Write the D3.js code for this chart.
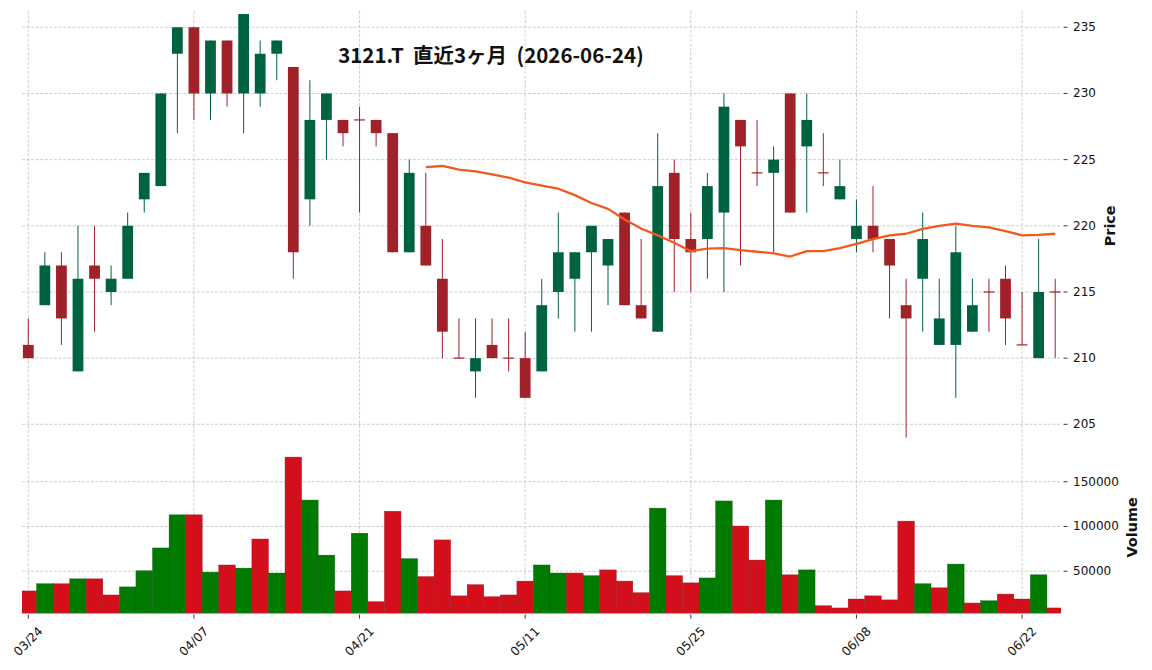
<!DOCTYPE html>
<html>
<head>
<meta charset="utf-8">
<script src="https://cdn.jsdelivr.net/npm/d3@7/dist/d3.min.js"></script>
<style>
  body { margin: 0; background: #fff; }
  svg text { fill: #111; }
</style>
</head>
<body>
<div id="chart"></div>
<script>
// Trading days (index = bar position)
var dates = ["03/24","03/25","03/26","03/27","03/30","03/31","04/01","04/02","04/03","04/06",
	"04/07","04/08","04/09","04/10","04/13","04/14","04/15","04/16","04/17","04/20",
	"04/21","04/22","04/23","04/24","04/27","04/28","04/30","05/01","05/07","05/08",
	"05/11","05/12","05/13","05/14","05/15","05/18","05/19","05/20","05/21","05/22",
	"05/25","05/26","05/27","05/28","05/29","06/01","06/02","06/03","06/04","06/05",
	"06/08","06/09","06/10","06/11","06/12","06/15","06/16","06/17","06/18","06/19",
	"06/22","06/23","06/24"];

var opens = [211,214,217,209,217,215,216,222,223,233,
	235,230,234,230,230,233,232,222,228,228,
	228,228,227,218,220,216,210,209,211,210,
	210,209,215,216,218,217,221,214,212,224,
	219,219,221,228,224,224,230,226,224,222,
	219,220,219,214,216,211,211,212,215,216,
	211,210,215];

var highs = [213,218,218,220,220,217,221,224,230,235,
	235,234,234,236,234,234,232,231,230,228,
	229,228,227,225,224,219,213,213,213,213,
	212,216,221,218,220,219,221,219,227,225,
	221,224,230,228,228,226,230,230,227,225,
	222,223,219,216,221,216,220,216,216,217,
	215,219,216];

var lows = [210,214,211,209,212,214,216,221,223,227,
	228,228,229,227,229,231,216,220,225,226,
	221,226,218,218,217,210,210,207,210,209,
	207,209,213,212,212,214,214,213,212,215,
	215,216,215,217,223,218,221,221,223,222,
	218,218,213,204,212,211,207,212,212,211,
	211,210,210];

var closes = [210,217,213,216,216,216,220,224,230,235,
	230,234,230,236,233,234,218,228,230,227,
	228,227,218,224,217,212,210,210,210,210,
	207,214,218,218,220,219,214,213,223,219,
	218,223,229,226,224,225,221,228,224,223,
	220,219,217,213,219,213,218,214,215,213,
	211,215,215];

var volumes = [28000,36000,36000,41500,41500,23500,32500,50500,76000,113000,
	113000,49000,57000,53500,86000,48000,177500,129500,68000,28000,
	92500,16000,117000,64000,44000,85000,22500,35000,21500,23500,
	39000,57000,48000,48000,45000,51500,39000,26000,120500,45000,
	37000,42500,128500,100500,62500,129500,46000,51500,11500,9000,
	19000,22500,18000,106000,36000,31500,58000,14500,17000,24500,
	19000,46000,9000];

// 25-day moving average, starts at bar 24
var maStart = 24;
var ma25 = [224.44,224.52,224.24,224.12,223.88,223.64,223.28,223.04,222.80,222.32,
	221.72,221.28,220.48,219.80,219.28,218.72,218.08,218.28,218.32,218.16,
	218.04,217.92,217.68,218.08,218.08,218.32,218.64,219.00,219.28,219.40,
	219.76,220.00,220.16,220.00,219.88,219.60,219.28,219.32,219.40];

var priceTicks = [205,210,215,220,225,230,235];
var volumeTicks = [50000,100000,150000];
var xTickIdx = [0,10,20,30,40,50,60];

var titleText = "3121.T  直近3ヶ月  (2026-06-24)";

// colours
var upCandle = "#006340", downCandle = "#a02128";
var upVol = "#007a00", downVol = "#d40f1c";
var maColor = "#f05a1f";
var gridColor = "#c2c2c2";

var width = 1152, height = 670;

// panel geometry
var plotLeft = 22, plotRight = 1061;
var priceTop = 11, priceBottom = 440.6;
var volTop = 441.2, volBottom = 613.6;

var svg = d3.select("#chart").append("svg")
	.attr("width", width)
	.attr("height", height)
	.style("font-family", "'DejaVu Sans', sans-serif");

var x = d3.scaleLinear()
	.domain([-0.38, dates.length - 0.65])
	.range([plotLeft, plotRight]);

var y = d3.scaleLinear()
	.domain([203.77, 236.23])
	.range([priceBottom, priceTop]);

var yv = d3.scaleLinear()
	.domain([0.3 * d3.min(volumes), 1.1 * d3.max(volumes)])
	.range([volBottom, volTop]);

var step = x(1) - x(0);
var bodyW = step * 0.65;

//Grid
var grid = svg.append("g")
	.attr("stroke", gridColor)
	.attr("stroke-width", 0.8)
	.attr("stroke-dasharray", "3,1.6");

grid.selectAll(".vgrid")
	.data(xTickIdx)
	.enter().append("line")
	.attr("x1", function (d) { return x(d); })
	.attr("x2", function (d) { return x(d); })
	.attr("y1", priceTop)
	.attr("y2", volBottom);

grid.selectAll(".pgrid")
	.data(priceTicks)
	.enter().append("line")
	.attr("x1", plotLeft).attr("x2", plotRight)
	.attr("y1", function (d) { return y(d); })
	.attr("y2", function (d) { return y(d); });

grid.selectAll(".vlgrid")
	.data(volumeTicks)
	.enter().append("line")
	.attr("x1", plotLeft).attr("x2", plotRight)
	.attr("y1", function (d) { return yv(d); })
	.attr("y2", function (d) { return yv(d); });

//Volume bars (coloured by close vs previous close)
svg.append("clipPath").attr("id", "clipv")
	.append("rect")
	.attr("x", plotLeft).attr("y", volTop)
	.attr("width", plotRight - plotLeft).attr("height", volBottom - volTop);

svg.append("g")
	.attr("clip-path", "url(#clipv)")
	.selectAll(".vol")
	.data(volumes)
	.enter().append("rect")
	.attr("class", "vol")
	.attr("x", function (d, i) { return x(i) - step / 2; })
	.attr("width", step)
	.attr("y", function (d) { return yv(d); })
	.attr("height", function (d) { return volBottom - yv(d); })
	.attr("fill", function (d, i) {
		return (i > 0 && closes[i] > closes[i - 1]) ? upVol : downVol;
	})
	.attr("stroke", function (d, i) {
		return (i > 0 && closes[i] > closes[i - 1]) ? "#0a5a0a" : "#9a1a20";
	})
	.attr("stroke-width", 0.4);

//Candles
var candles = svg.append("g")
	.selectAll(".candle")
	.data(dates)
	.enter().append("g")
	.attr("class", "candle");

function candleColor(i) {
	return opens[i] < closes[i] ? upCandle : downCandle;
}

candles.append("line")
	.attr("x1", function (d, i) { return x(i); })
	.attr("x2", function (d, i) { return x(i); })
	.attr("y1", function (d, i) { return y(highs[i]); })
	.attr("y2", function (d, i) { return y(lows[i]); })
	.attr("stroke", function (d, i) { return candleColor(i); })
	.attr("stroke-width", 1);

candles.filter(function (d, i) { return opens[i] !== closes[i]; })
	.append("rect")
	.attr("x", function (d) { var i = dates.indexOf(d); return x(i) - bodyW / 2; })
	.attr("width", bodyW)
	.attr("y", function (d) { var i = dates.indexOf(d); return y(Math.max(opens[i], closes[i])); })
	.attr("height", function (d) {
		var i = dates.indexOf(d);
		return y(Math.min(opens[i], closes[i])) - y(Math.max(opens[i], closes[i]));
	})
	.attr("fill", function (d) { return candleColor(dates.indexOf(d)); });

// doji: flat body
candles.filter(function (d, i) { return opens[i] === closes[i]; })
	.append("line")
	.attr("x1", function (d) { return x(dates.indexOf(d)) - bodyW / 2; })
	.attr("x2", function (d) { return x(dates.indexOf(d)) + bodyW / 2; })
	.attr("y1", function (d) { return y(closes[dates.indexOf(d)]); })
	.attr("y2", function (d) { return y(closes[dates.indexOf(d)]); })
	.attr("stroke", downCandle)
	.attr("stroke-width", 1.2);

//Moving average
var maLine = d3.line()
	.x(function (d, k) { return x(maStart + k); })
	.y(function (d) { return y(d); });

svg.append("path")
	.datum(ma25)
	.attr("d", maLine)
	.attr("fill", "none")
	.attr("stroke", maColor)
	.attr("stroke-width", 2.3)
	.attr("stroke-linejoin", "round");

//Axes (right side)
var tickX1 = plotRight + 2.5, tickX2 = plotRight + 6.5;

var pAxis = svg.append("g");
pAxis.selectAll("line")
	.data(priceTicks)
	.enter().append("line")
	.attr("x1", tickX1).attr("x2", tickX2)
	.attr("y1", function (d) { return y(d); })
	.attr("y2", function (d) { return y(d); })
	.attr("stroke", "#222").attr("stroke-width", 0.9);
pAxis.selectAll("text")
	.data(priceTicks)
	.enter().append("text")
	.attr("x", plotRight + 12)
	.attr("y", function (d) { return y(d); })
	.attr("dominant-baseline", "central")
	.style("font-size", "12px")
	.text(function (d) { return d; });

var vAxis = svg.append("g");
vAxis.selectAll("line")
	.data(volumeTicks)
	.enter().append("line")
	.attr("x1", tickX1).attr("x2", tickX2)
	.attr("y1", function (d) { return yv(d); })
	.attr("y2", function (d) { return yv(d); })
	.attr("stroke", "#222").attr("stroke-width", 0.9);
vAxis.selectAll("text")
	.data(volumeTicks)
	.enter().append("text")
	.attr("x", plotRight + 12)
	.attr("y", function (d) { return yv(d); })
	.attr("dominant-baseline", "central")
	.style("font-size", "12px")
	.text(function (d) { return d; });

//X axis (bottom)
var xAxis = svg.append("g");
xAxis.selectAll("line")
	.data(xTickIdx)
	.enter().append("line")
	.attr("x1", function (d) { return x(d); })
	.attr("x2", function (d) { return x(d); })
	.attr("y1", volBottom + 1)
	.attr("y2", volBottom + 5)
	.attr("stroke", "#222").attr("stroke-width", 0.9);
xAxis.selectAll("text")
	.data(xTickIdx)
	.enter().append("text")
	.attr("transform", function (d) { return "translate(" + x(d) + ",641.5) rotate(-45)"; })
	.attr("text-anchor", "middle")
	.attr("dominant-baseline", "central")
	.style("font-size", "12.2px")
	.text(function (d) { return dates[d]; });

//Axis titles
svg.append("text")
	.attr("transform", "translate(1110," + ((priceTop + priceBottom) / 2) + ") rotate(-90)")
	.attr("text-anchor", "middle")
	.attr("dominant-baseline", "central")
	.style("font-size", "14.4px")
	.style("font-weight", "bold")
	.text("Price");

svg.append("text")
	.attr("transform", "translate(1132," + ((volTop + volBottom) / 2) + ") rotate(-90)")
	.attr("text-anchor", "middle")
	.attr("dominant-baseline", "central")
	.style("font-size", "14.4px")
	.style("font-weight", "bold")
	.text("Volume");

//Title
svg.append("text")
	.attr("x", 491)
	.attr("y", 63)
	.attr("text-anchor", "middle")
	.style("font-family", "'Noto Sans CJK JP', sans-serif")
	.style("font-size", "20.5px")
	.style("font-weight", "bold")
	.style("white-space", "pre")
	.text(titleText);
</script>
</body>
</html>
